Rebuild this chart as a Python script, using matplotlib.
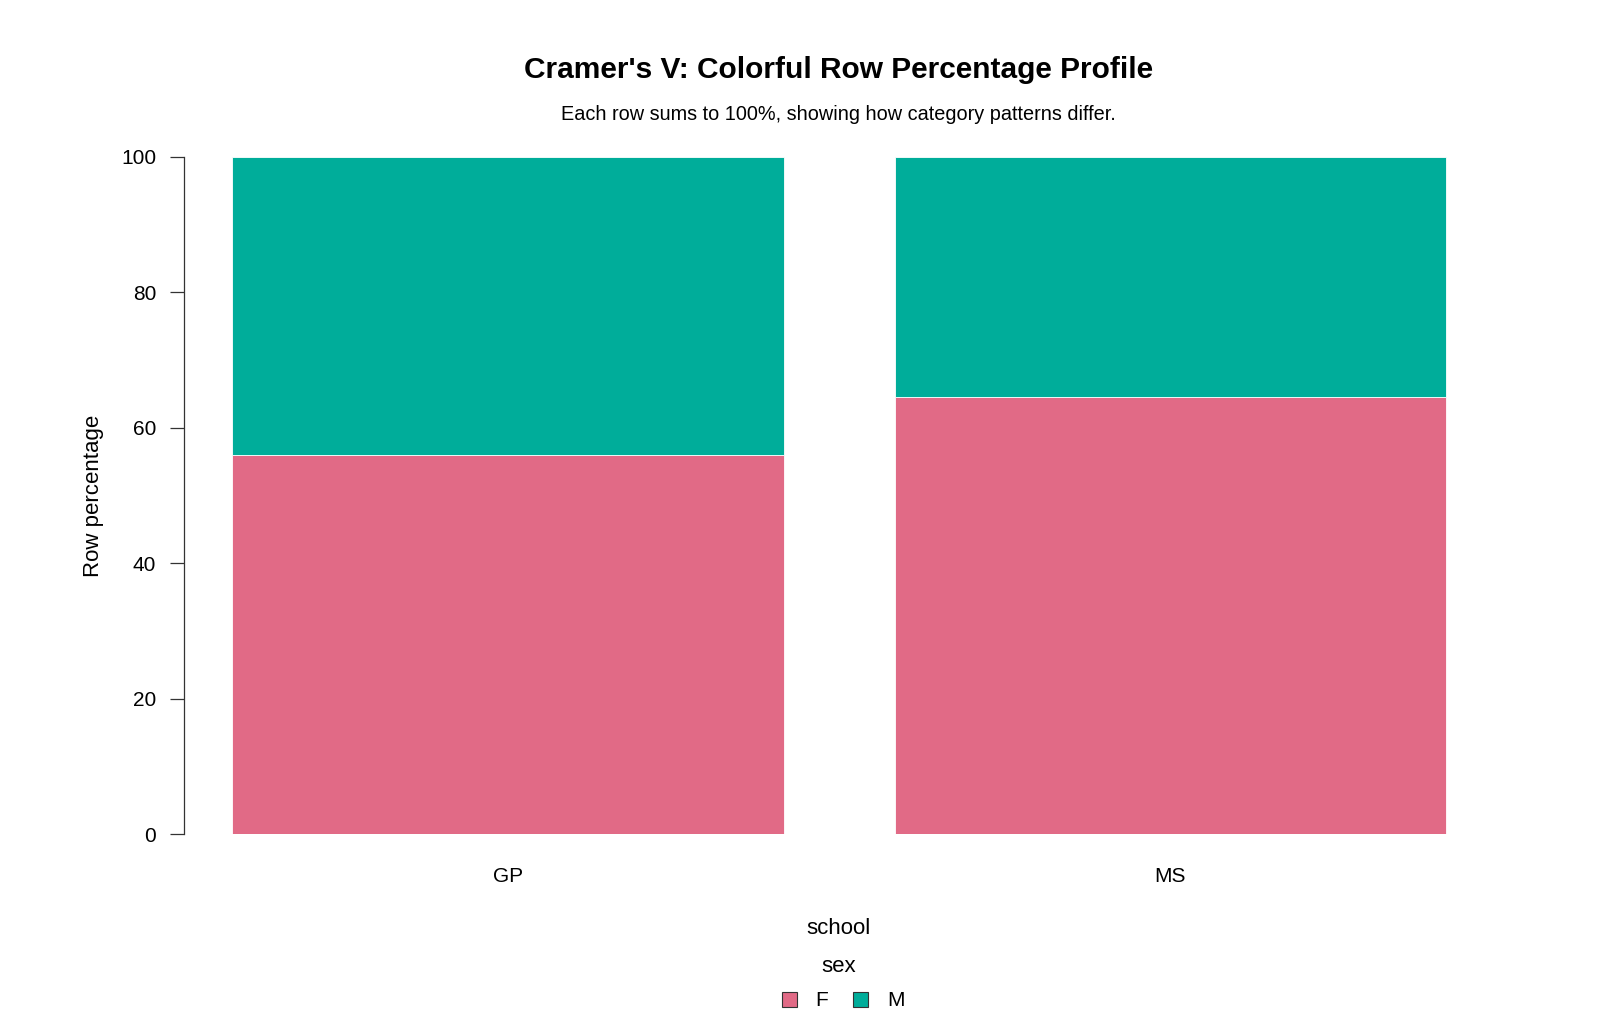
import matplotlib
matplotlib.use('Agg')
import matplotlib.pyplot as plt
from matplotlib.patches import Patch
import numpy as np

# row percentages (school x sex)
schools = ['GP', 'MS']
sex_levels = ['F', 'M']
pct_F = [56.03, 64.60]
pct_M = [43.97, 35.40]
colors = ['#E16A86', '#00AD9A']

plt.rcParams['font.family'] = ['Liberation Sans', 'DejaVu Sans']

fig = plt.figure(figsize=(16, 10.18), dpi=100)
ax = fig.add_axes([0.115, 0.1807, 0.819, 0.6651])

x = np.arange(len(schools))
width = 0.832
ax.bar(x, pct_F, width, color=colors[0], edgecolor='white', linewidth=0.6)
ax.bar(x, pct_M, width, bottom=pct_F, color=colors[1], edgecolor='white', linewidth=0.6)

ax.set_xlim(-0.489, 1.489)
ax.set_ylim(0, 100)
ax.set_yticks([0, 20, 40, 60, 80, 100])
ax.set_xticks(x)
ax.set_xticklabels(schools)

for s in ['top', 'right', 'bottom']:
    ax.spines[s].set_visible(False)
ax.spines['left'].set_color('#333333')
ax.spines['left'].set_linewidth(0.9)
ax.tick_params(axis='y', length=10, width=0.9, color='#333333', pad=10, labelsize=15)
ax.tick_params(axis='x', length=0, pad=24, labelsize=15)
ax.set_ylabel('Row percentage', fontsize=16, labelpad=12)

fig.text(0.524, 1 - 70 / 1018, "Cramer's V: Colorful Row Percentage Profile",
         ha='center', va='center', fontsize=21.5, fontweight='bold')
fig.text(0.524, 1 - 114 / 1018, 'Each row sums to 100%, showing how category patterns differ.',
         ha='center', va='center', fontsize=14.3)
fig.text(0.524, 1 - 929 / 1018, 'school', ha='center', va='center', fontsize=16)
fig.text(0.524, 1 - 966 / 1018, 'sex', ha='center', va='center', fontsize=16)

handles = [Patch(facecolor=c, edgecolor='#333333', linewidth=0.8) for c in colors]
fig.legend(handles, sex_levels, ncol=2, frameon=False, loc='center',
           bbox_to_anchor=(0.527, 1 - 1001 / 1018), fontsize=15,
           handlelength=0.72, handleheight=0.72, handletextpad=0.9,
           columnspacing=1.2)

fig.savefig('out.png', dpi=100)
